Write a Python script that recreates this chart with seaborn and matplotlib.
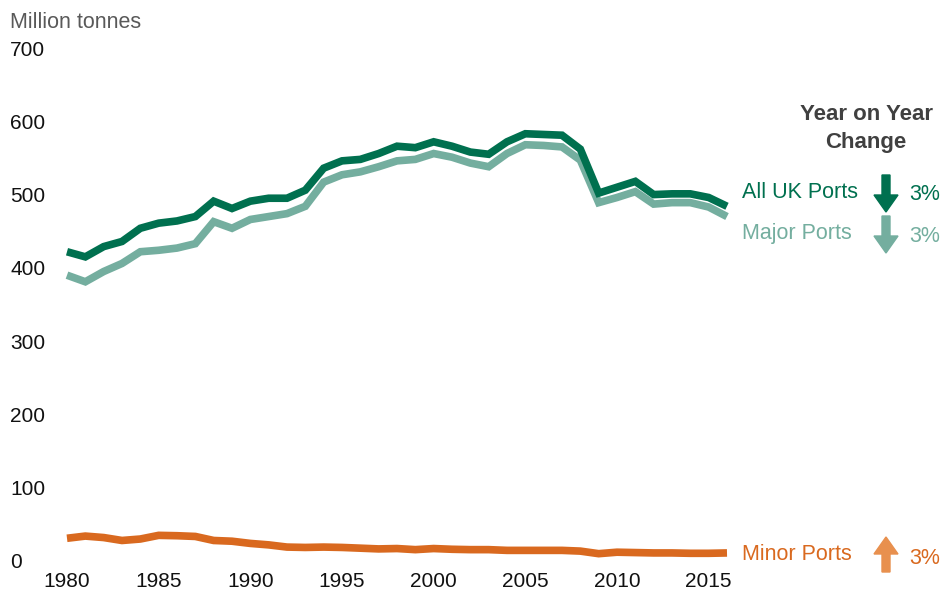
import pandas as pd
import matplotlib.pyplot as plt
import seaborn as sns
from matplotlib.patches import FancyArrow
from matplotlib.transforms import IdentityTransform

years = list(range(1980, 2017))
all_uk = [422, 415, 429, 436, 454, 461, 464, 470, 491, 481, 491, 495, 495, 506, 536, 546, 548, 556, 566,
          564, 572, 566, 558, 555, 572, 583, 582, 581, 562, 502, 510, 518, 500, 501, 501, 496, 484]
major = [390, 381, 395, 406, 422, 424, 427, 433, 463, 454, 466, 470, 474, 484, 517, 527, 531, 538, 546,
         548, 556, 551, 543, 538, 556, 568, 567, 565, 547, 489, 496, 504, 487, 489, 489, 483, 470]
minor = [31, 34, 32, 28, 30, 35, 34.5, 33.5, 28, 27, 24, 22, 19, 18.5, 19, 18.5, 17.5, 16.5, 17,
         15.5, 17, 16, 15.5, 15.5, 14.5, 14.5, 14.5, 14.5, 13.5, 10, 12, 11.5, 11, 11, 10.5, 10.5, 11]

series = ["All UK Ports", "Major Ports", "Minor Ports"]
changes = ["3%", "3%", "3%"]
yticks = [0, 100, 200, 300, 400, 500, 600, 700]
xticks = [1980, 1985, 1990, 1995, 2000, 2005, 2010, 2015]

dark_green = "#00704F"
light_green = "#74AE9F"
orange = "#D9691F"
orange_arrow = "#E8904E"
colors = {"All UK Ports": dark_green, "Major Ports": light_green, "Minor Ports": orange}

df = pd.DataFrame({"Year": years * 3,
                   "Tonnes": all_uk + major + minor,
                   "Series": ["All UK Ports"] * len(years) + ["Major Ports"] * len(years) + ["Minor Ports"] * len(years)})

sns.set_style("white")
plt.rcParams["font.family"] = ["Liberation Sans", "DejaVu Sans"]

fig = plt.figure(figsize=(9.43, 5.97), dpi=100)
W, H = 943, 597
ax = fig.add_axes([67 / W, 1 - 561 / H, (727 - 67) / W, (561 - 48) / H])

sns.lineplot(data=df, x="Year", y="Tonnes", hue="Series", palette=colors,
             hue_order=["Major Ports", "All UK Ports", "Minor Ports"],
             linewidth=5.5, legend=False, ax=ax)
for line in ax.lines:
    line.set_clip_on(False)
    line.set_solid_capstyle("butt")
    line.set_solid_joinstyle("miter")

ax.set_xlim(1980, 2016)
ax.set_ylim(0, 700)
ax.set_xticks(xticks)
ax.set_yticks(yticks)
ax.set_xlabel("")
ax.set_ylabel("")
sns.despine(ax=ax, left=True, bottom=True)
ax.tick_params(axis="both", length=0, labelsize=15, labelcolor="#111111")
ax.tick_params(axis="x", pad=8)
ax.tick_params(axis="y", pad=41)
for lbl in ax.get_yticklabels():
    lbl.set_horizontalalignment("left")

fig.text(10 / W, 1 - 22 / H, "Million tonnes", fontsize=15.5, color="#595959", va="center", ha="left")

fig.text(866 / W, 1 - 115 / H, "Year on Year", fontsize=16, fontweight="bold", color="#404040",
         ha="center", va="center")
fig.text(866 / W, 1 - 142 / H, "Change", fontsize=16, fontweight="bold", color="#404040",
         ha="center", va="center")

label_y = [192, 233, 555]
arrow_cols = [dark_green, light_green, orange_arrow]
text_cols = [dark_green, light_green, orange]
for name, ch, ly, tc, ac in zip(series, changes, label_y, text_cols, arrow_cols):
    fig.text(742 / W, 1 - ly / H, name, fontsize=15.5, color=tc, ha="left", va="center")
    fig.text(909 / W, 1 - (ly + 3) / H, ch, fontsize=15.5, color=tc, ha="left", va="center")
    if name == "Minor Ports":
        y0, y1 = H - 572, H - 537
    else:
        y0, y1 = H - (ly - 17), H - (ly + 20)
    arr = FancyArrow(886, y0, 0, y1 - y0, width=8, head_width=24, head_length=17,
                     length_includes_head=True, color=ac, transform=IdentityTransform())
    fig.add_artist(arr)

plt.savefig("out.png", dpi=100)
